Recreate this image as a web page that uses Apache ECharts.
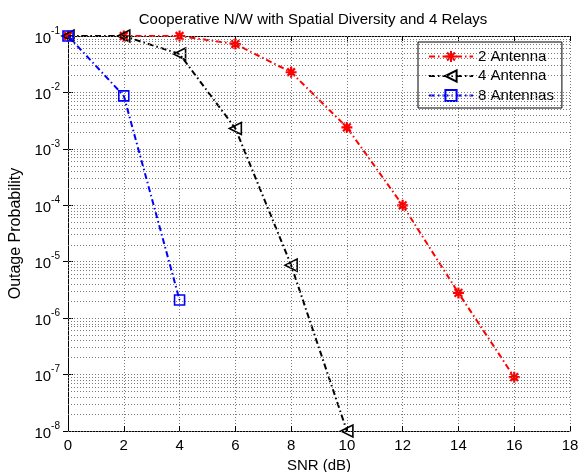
<!DOCTYPE html>
<html>
<head>
<meta charset="utf-8">
<script src="https://cdn.jsdelivr.net/npm/echarts@6/dist/echarts.min.js"></script>
<style>
  html, body { margin: 0; padding: 0; background: #fff; }
  #chart { width: 582px; height: 472px; }
</style>
</head>
<body>
<div id="chart"></div>
<script>
// SNR values (dB) for each curve
var snr2 = [0, 2, 4, 6, 8, 10, 12, 14, 16];
var snr4 = [0, 2, 4, 6, 8, 10];
var snr8 = [0, 2, 4];

// outage probability
var out2 = [0.1, 0.1, 0.1, 0.072, 0.0228, 0.0024, 1.0e-4, 2.8e-6, 9.0e-8];
var out4 = [0.1, 0.1, 0.048, 0.0023, 8.7e-6, 1.0e-8];
var out8 = [0.1, 0.0087, 2.1e-6];

var xTicks = [0, 2, 4, 6, 8, 10, 12, 14, 16, 18];
var decades = [-8, -7, -6, -5, -4, -3, -2, -1];

var fontName = 'Liberation Sans, Arial, sans-serif';
var dashDot = [6, 3, 1.5, 3];
var gridGrey = '#7a7a7a';

function pairs(xs, ys) {
  var out = [];
  for (var i = 0; i < xs.length; i++) out.push([xs[i], ys[i]]);
  return out;
}

// matlab style log grid: a dotted line at every 1..9 x 10^n
// drawn on a hidden linear axis that holds log10 of the value
var gridLines = [];
for (var d = 0; d < decades.length - 1; d++) {
  for (var k = 1; k <= 9; k++) {
    gridLines.push({ yAxis: decades[d] + Math.log(k) / Math.LN10 });
  }
}
gridLines.push({ yAxis: decades[decades.length - 1] });

var asterisk = 'path://M5,0L5,10M0,5L10,5M1.5,1.5L8.5,8.5M1.5,8.5L8.5,1.5';

var chart = echarts.init(document.getElementById('chart'), null, { renderer: 'canvas' });

var option = {
  animation: false,
  backgroundColor: '#fff',
  textStyle: { fontFamily: fontName },
  title: {
    text: 'Cooperative N/W with Spatial Diversity and 4 Relays',
    left: 308,
    textAlign: 'center',
    top: 7,
    textStyle: { fontFamily: fontName, fontSize: 15, fontWeight: 'normal', color: '#000' }
  },
  legend: {
    left: 418,
    top: 42,
    orient: 'vertical',
    backgroundColor: '#fff',
    borderColor: '#000',
    borderWidth: 1,
    padding: [7, 8, 5, 10],
    itemWidth: 44,
    itemHeight: 14,
    itemGap: 4.5,
    textStyle: { fontFamily: fontName, fontSize: 15, color: '#000' },
    data: ['2 Antenna', '4 Antenna', '8 Antennas']
  },
  grid: { left: 68, right: 12, top: 36, bottom: 41, outerBoundsMode: 'none', containLabel: false },
  xAxis: [{
    type: 'value',
    min: 0,
    max: 18,
    interval: 2,
    name: 'SNR (dB)',
    nameLocation: 'middle',
    nameGap: 24,
    nameTextStyle: { fontFamily: fontName, fontSize: 15, color: '#000' },
    axisLine: { onZero: false, lineStyle: { color: '#000', width: 1 } },
    axisTick: { inside: true, length: 5, lineStyle: { color: '#000' } },
    axisLabel: { fontFamily: fontName, fontSize: 15, color: '#000', margin: 7 },
    splitLine: { show: true, lineStyle: { color: gridGrey, type: [1, 2], width: 1 } }
  }, {
    type: 'value',
    position: 'top',
    min: 0,
    max: 18,
    interval: 2,
    axisLine: { show: true, lineStyle: { color: '#000', width: 1 } },
    axisTick: { show: true, inside: true, length: 5, lineStyle: { color: '#000' } },
    axisLabel: { show: false },
    splitLine: { show: false }
  }],
  yAxis: [{
    type: 'log',
    logBase: 10,
    min: 1e-8,
    max: 1e-1,
    interval: 1,
    name: 'Outage Probability',
    nameLocation: 'middle',
    nameGap: 39,
    nameTextStyle: { fontFamily: fontName, fontSize: 16, color: '#000' },
    axisLine: { show: true, onZero: false, lineStyle: { color: '#000', width: 1 } },
    axisTick: { show: true, inside: true, length: 5, lineStyle: { color: '#000' } },
    axisLabel: {
      color: '#000',
      margin: 8,
      formatter: function (v) {
        var e = Math.round(Math.log(v) / Math.LN10);
        return '{b|10}{s|' + e + '}';
      },
      rich: {
        b: { fontFamily: fontName, fontSize: 15, color: '#000', verticalAlign: 'bottom', lineHeight: 20 },
        s: { fontFamily: fontName, fontSize: 10, color: '#000', verticalAlign: 'top', lineHeight: 20, padding: [0, 0, 10, 0] }
      }
    },
    splitLine: { show: false }
  }, {
    type: 'log',
    logBase: 10,
    position: 'right',
    min: 1e-8,
    max: 1e-1,
    interval: 1,
    axisLine: { show: true, lineStyle: { color: '#000', width: 1 } },
    axisTick: { show: true, inside: true, length: 5, lineStyle: { color: '#000' } },
    axisLabel: { show: false },
    splitLine: { show: false }
  }, {
    // hidden linear helper axis in log10 units, only for the grid lines
    type: 'value',
    min: -8,
    max: -1,
    show: false,
    splitLine: { show: false }
  }],
  series: [{
    name: 'grid',
    type: 'line',
    yAxisIndex: 2,
    data: [],
    silent: true,
    z: 1,
    markLine: {
      silent: true,
      animation: false,
      symbol: ['none', 'none'],
      label: { show: false },
      lineStyle: { color: gridGrey, type: [1, 2], width: 1 },
      data: gridLines
    }
  }, {
    name: '2 Antenna',
    type: 'line',
    z: 3,
    data: pairs(snr2, out2),
    symbol: asterisk,
    symbolSize: 11,
    lineStyle: { color: '#ff0000', width: 2, type: dashDot },
    itemStyle: { color: '#ff0000', borderColor: '#ff0000', borderWidth: 2.2 }
  }, {
    name: '4 Antenna',
    type: 'line',
    z: 4,
    data: pairs(snr4, out4),
    symbol: 'triangle',
    symbolRotate: 90,
    symbolSize: 12,
    lineStyle: { color: '#000', width: 2, type: dashDot },
    itemStyle: { color: 'rgba(0,0,0,0)', borderColor: '#000', borderWidth: 1.6 }
  }, {
    name: '8 Antennas',
    type: 'line',
    z: 5,
    data: pairs(snr8, out8),
    symbol: 'rect',
    symbolSize: 10,
    lineStyle: { color: '#0000ff', width: 2, type: dashDot },
    itemStyle: { color: 'rgba(0,0,0,0)', borderColor: '#0000ff', borderWidth: 1.6 }
  }]
};

chart.setOption(option);
</script>
</body>
</html>
